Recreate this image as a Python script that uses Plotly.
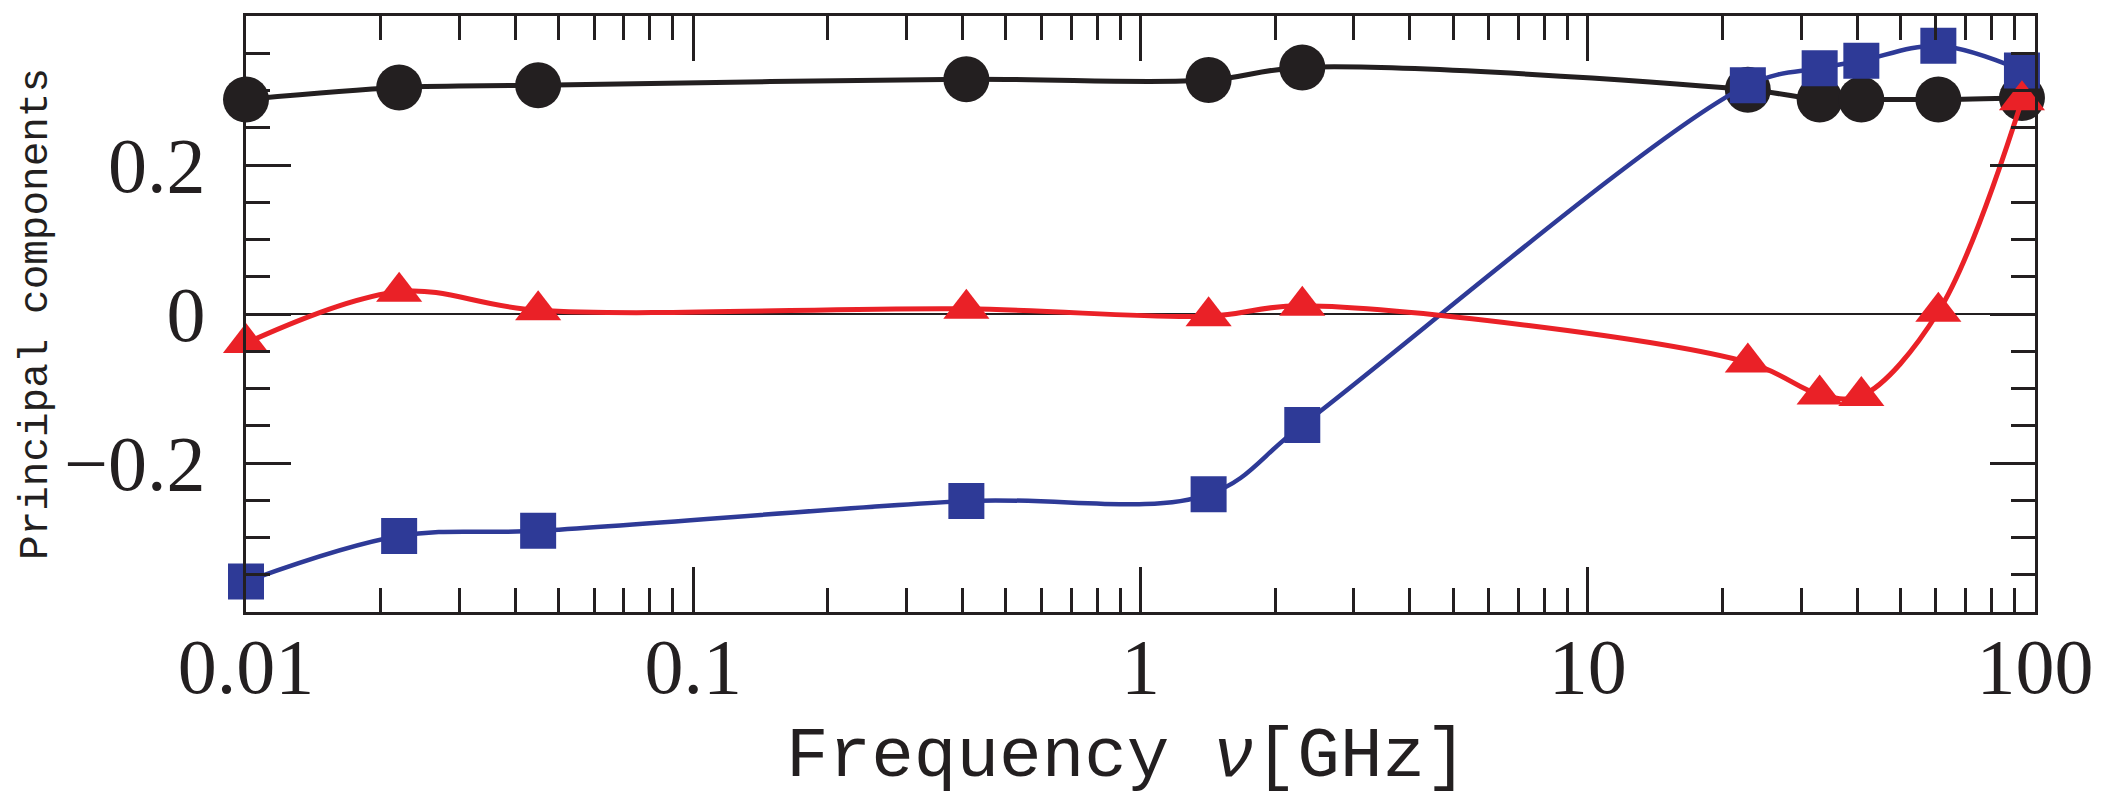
import plotly.graph_objects as go

# Frequencies [GHz]
freq = [0.01, 0.022, 0.045, 0.408, 1.42, 2.3, 22.8, 33, 40.9, 60.8, 93.5]

# Principal components
pc_black = [0.288, 0.304, 0.307, 0.315, 0.314, 0.331, 0.301, 0.288, 0.288, 0.288, 0.290]
pc_blue = [-0.359, -0.298, -0.291, -0.251, -0.242, -0.149, 0.307, 0.330, 0.340, 0.360, 0.327]
pc_red = [-0.039, 0.030, 0.005, 0.007, -0.003, 0.011, -0.065, -0.108, -0.110, 0.003, 0.287]

x_tickvals = [0.01, 0.1, 1, 10, 100]
x_ticktext = ["0.01", "0.1", "1", "10", "100"]
y_tickvals = [-0.2, 0, 0.2]
y_ticktext = ["\u22120.2", "0", "0.2"]

BLACK = "#231f20"
BLUE = "#2e3a97"
RED = "#ea2127"

# page body has an 8px margin; plot area target: x 246..2035, y 16..612
BODY = 8
PL, PR, PT, PB = 246, 2035, 16, 612

fig = go.Figure()
fig.add_trace(go.Scatter(
    x=freq, y=pc_black, mode="lines+markers", line=dict(color=BLACK, width=5, shape="spline", smoothing=1.0),
    marker=dict(symbol="circle", size=46, color=BLACK), cliponaxis=False, showlegend=False))
fig.add_trace(go.Scatter(
    x=freq, y=pc_blue, mode="lines+markers", line=dict(color=BLUE, width=4.5, shape="spline", smoothing=1.0),
    marker=dict(symbol="square", size=36, color=BLUE), cliponaxis=False, showlegend=False))
fig.add_trace(go.Scatter(
    x=freq, y=pc_red, mode="lines+markers", line=dict(color=RED, width=5, shape="spline", smoothing=1.0),
    marker=dict(symbol="triangle-up", size=40, color=RED), cliponaxis=False, showlegend=False))

minor_x = [m * 10 ** e for e in range(-2, 2) for m in range(2, 10)]

W, H = 2111 - BODY, 798 - BODY
fig.update_layout(
    width=W, height=H,
    margin=dict(l=PL - BODY, r=2111 - PR, t=PT - BODY, b=798 - PB),
    paper_bgcolor="white", plot_bgcolor="white",
    font=dict(family="Liberation Serif", color=BLACK),
    xaxis=dict(
        type="log", range=[-2, 2], showgrid=False, zeroline=False, automargin=False,
        showline=True, linecolor=BLACK, linewidth=3, mirror="ticks",
        ticks="inside", ticklen=45, tickwidth=2.5, tickcolor=BLACK,
        tickvals=x_tickvals, ticktext=x_ticktext,
        tickfont=dict(family="Liberation Serif", size=78, color=BLACK),
        ticklabelstandoff=-16,
        minor=dict(tickvals=minor_x, ticks="inside", ticklen=24, tickwidth=2.5, tickcolor=BLACK, showgrid=False),
    ),
    yaxis=dict(
        range=[-0.4, 0.4], showgrid=False, automargin=False,
        zeroline=True, zerolinecolor=BLACK, zerolinewidth=2,
        showline=True, linecolor=BLACK, linewidth=3, mirror="ticks",
        ticks="inside", ticklen=45, tickwidth=2.5, tickcolor=BLACK,
        tickvals=y_tickvals, ticktext=y_ticktext,
        tickfont=dict(family="Liberation Serif", size=78, color=BLACK),
        ticklabelstandoff=22,
        minor=dict(dtick=0.05, ticks="inside", ticklen=24, tickwidth=2.5, tickcolor=BLACK, showgrid=False),
    ),
    annotations=[
        dict(text="Principal components", textangle=-90, xref="paper", yref="paper",
             x=(36 - PL) / (PR - PL), y=0.5, xanchor="center", yanchor="middle", showarrow=False,
             font=dict(family="Liberation Mono", size=41, color=BLACK)),
        dict(text="Frequency <i>\u03bd</i>[GHz]", xref="paper", yref="paper",
             x=(1127 - PL) / (PR - PL), y=(PB - 757) / (PB - PT), xanchor="center", yanchor="middle",
             showarrow=False, font=dict(family="Liberation Mono", size=71, color=BLACK)),
    ],
)

fig.write_html("out.html")
